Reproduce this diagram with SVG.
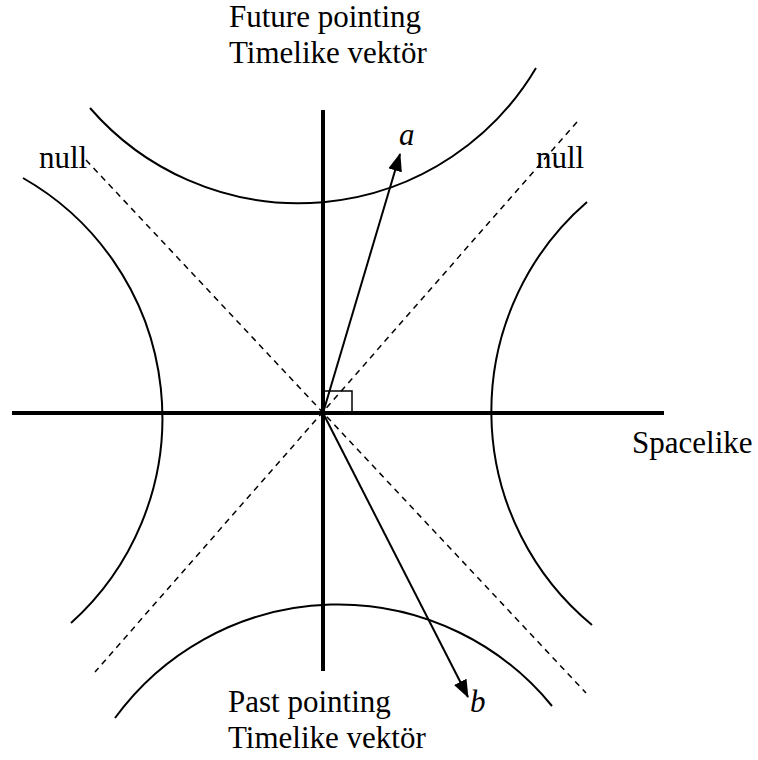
<svg xmlns="http://www.w3.org/2000/svg" width="758" height="760" viewBox="0 0 758 760">
<defs>
<style>
.t{font-family:"Liberation Serif","Times New Roman",serif;font-size:31px;fill:#000}
.i{font-style:italic}
.axis{stroke:#000;stroke-width:4;fill:none}
.arc{stroke:#000;stroke-width:2;fill:none}
.null{stroke:#000;stroke-width:1.5;stroke-dasharray:6,5;fill:none}
.vec{stroke:#000;stroke-width:2;fill:none;marker-end:url(#ah)}
</style>
<marker id="ah" viewBox="0 0 18 14" markerWidth="18" markerHeight="14" refX="17" refY="7" orient="auto" markerUnits="userSpaceOnUse">
<path d="M0,0 L18,7 L0,14 z" fill="#000"/>
</marker>
</defs>
<rect width="758" height="760" fill="#fff"/>
<g id="hyperbolas">
<path id="future-arc" class="arc" d="M90,108 A276,276 0 0,0 536,68"/>
<path id="left-arc" class="arc" d="M23,178 A276,276 0 0,1 71,623"/>
<path id="right-arc" class="arc" d="M587,202 A277,277 0 0,0 592,625"/>
<path id="past-arc" class="arc" d="M115,718 A276,276 0 0,1 552,706"/>
</g>
<g id="connectors">
<line class="axis" x1="12" y1="413" x2="664" y2="413"/>
<line class="axis" x1="323" y1="110" x2="323" y2="671"/>
<line class="null" x1="86" y1="160" x2="586" y2="693"/>
<line class="null" x1="577" y1="122" x2="95" y2="672"/>
<line class="vec" x1="323" y1="413" x2="400" y2="154"/>
<line class="vec" x1="323" y1="413" x2="468" y2="697"/>
<rect x="323" y="391" width="29" height="22" fill="none" stroke="#000" stroke-width="1.5"/>
</g>
<g id="future"><text class="t" x="229" y="27">Future pointing</text><text class="t" x="229" y="63">Timelike vektör</text></g>
<g id="past"><text class="t" x="228" y="712">Past pointing</text><text class="t" x="228" y="748">Timelike vektör</text></g>
<g id="null-left"><text class="t" x="39" y="168">null</text></g>
<g id="null-right"><text class="t" x="536" y="168">null</text></g>
<g id="spacelike"><text class="t" x="632" y="453">Spacelike</text></g>
<g id="vec-a"><text class="t i" x="399" y="145">a</text></g>
<g id="vec-b"><text class="t i" x="470" y="712">b</text></g>
</svg>
